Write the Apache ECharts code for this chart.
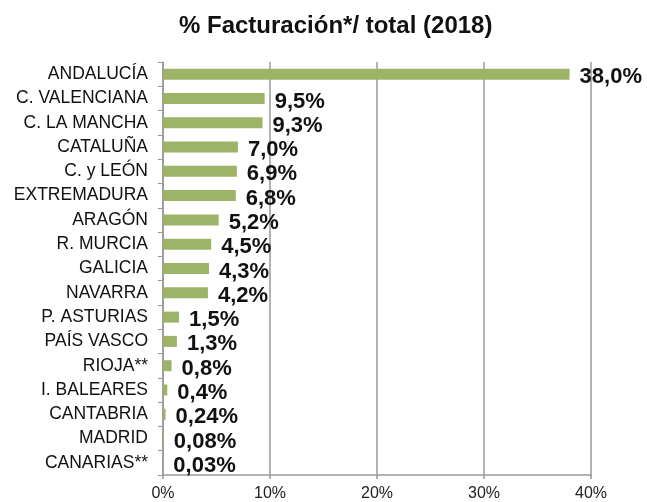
<!DOCTYPE html>
<html>
<head>
<meta charset="utf-8">
<script src="https://cdn.jsdelivr.net/npm/echarts@6/dist/echarts.min.js"></script>
<style>
    html, body { margin: 0; padding: 0; background: #fff; }
    #chart { width: 647px; height: 502px; }
</style>
</head>
<body>
<div id="chart"></div>
<script>
// regiones, de arriba a abajo
var regiones = ['ANDALUCÍA', 'C. VALENCIANA', 'C. LA MANCHA', 'CATALUÑA', 'C. y LEÓN', 'EXTREMADURA',
    'ARAGÓN', 'R. MURCIA', 'GALICIA', 'NAVARRA', 'P. ASTURIAS', 'PAÍS VASCO', 'RIOJA**',
    'I. BALEARES', 'CANTABRIA', 'MADRID', 'CANARIAS**'];
// % facturación sobre el total
var valores = [38.0, 9.5, 9.3, 7.0, 6.9, 6.8, 5.2, 4.5, 4.3, 4.2, 1.5, 1.3, 0.8, 0.4, 0.24, 0.08, 0.03];
// etiquetas tal como aparecen
var etiquetas = ['38,0%', '9,5%', '9,3%', '7,0%', '6,9%', '6,8%', '5,2%', '4,5%', '4,3%', '4,2%',
    '1,5%', '1,3%', '0,8%', '0,4%', '0,24%', '0,08%', '0,03%'];
var ticksX = [0, 10, 20, 30, 40];

(function () {
    var myChart = echarts.init(document.getElementById('chart'));
    var option = {
        animation: false,
        title: {
            text: '% Facturación*/ total (2018)',
            left: 174,
            top: 9,
            textStyle: {
                fontFamily: 'Liberation Sans',
                fontSize: 24,
                fontWeight: 'bold',
                color: '#111'
            }
        },
        grid: {
            left: 163,
            right: 56,
            top: 62,
            bottom: 27,
            containLabel: false
        },
        xAxis: {
            type: 'value',
            min: ticksX[0],
            max: ticksX[ticksX.length - 1],
            interval: 10,
            axisLine: { show: true, lineStyle: { color: '#999', width: 1.5 } },
            axisTick: { show: true, length: 4, lineStyle: { color: '#999', width: 1.5 } },
            axisLabel: {
                formatter: '{value}%',
                color: '#222',
                fontFamily: 'Liberation Sans',
                fontSize: 16,
                margin: 11
            },
            splitLine: { show: true, lineStyle: { color: '#999', width: 1.5 } }
        },
        yAxis: {
            type: 'category',
            inverse: true,
            data: regiones,
            axisLine: { show: true, lineStyle: { color: '#999', width: 1.5 } },
            axisTick: { show: true, length: 5, lineStyle: { color: '#999' } },
            axisLabel: {
                color: '#111',
                fontFamily: 'Liberation Sans',
                fontSize: 17.5,
                margin: 15
            }
        },
        series: [
            {
                type: 'bar',
                data: valores,
                barWidth: 11,
                itemStyle: { color: '#9db468' },
                label: {
                    show: true,
                    position: 'right',
                    distance: 10,
                    offset: [0, 3],
                    color: '#111',
                    fontFamily: 'Liberation Sans',
                    fontWeight: 'bold',
                    fontSize: 22,
                    formatter: function (p) {
                        return etiquetas[p.dataIndex];
                    }
                }
            }
        ]
    };
    myChart.setOption(option);
})();
</script>
</body>
</html>
